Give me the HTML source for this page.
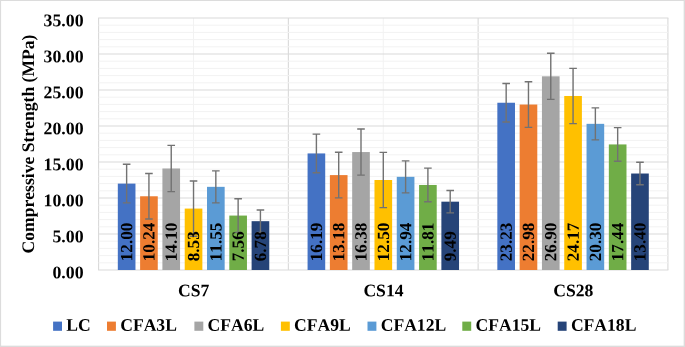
<!DOCTYPE html>
<html lang="en"><head><meta charset="utf-8"><title>Compressive Strength Chart</title>
<style>html,body{margin:0;padding:0;background:#fff}svg{display:block}</style></head>
<body>
<svg width="685" height="347" viewBox="0 0 685 347" font-family="'Liberation Serif', 'Times New Roman', serif" font-weight="bold" fill="#000" style="font-kerning:none">
<rect x="0" y="0" width="685" height="347" fill="#DCDCDC"/>
<rect x="1.1" y="1" width="682.55" height="344.65" fill="#fff"/>
<line x1="98.60" x2="98.60" y1="18.0" y2="270.0" stroke="#D9D9D9" stroke-width="1.1"/>
<line x1="288.37" x2="288.37" y1="18.0" y2="270.0" stroke="#D9D9D9" stroke-width="1.1"/>
<line x1="478.13" x2="478.13" y1="18.0" y2="270.0" stroke="#D9D9D9" stroke-width="1.1"/>
<line x1="667.90" x2="667.90" y1="18.0" y2="270.0" stroke="#D9D9D9" stroke-width="1.1"/>
<line x1="193.48" x2="193.48" y1="18.0" y2="270.0" stroke="#F2F2F2" stroke-width="1"/>
<line x1="383.25" x2="383.25" y1="18.0" y2="270.0" stroke="#F2F2F2" stroke-width="1"/>
<line x1="573.02" x2="573.02" y1="18.0" y2="270.0" stroke="#F2F2F2" stroke-width="1"/>
<line x1="98.6" x2="667.9" y1="262.80" y2="262.80" stroke="#F2F2F2" stroke-width="1"/>
<line x1="98.6" x2="667.9" y1="255.60" y2="255.60" stroke="#F2F2F2" stroke-width="1"/>
<line x1="98.6" x2="667.9" y1="248.40" y2="248.40" stroke="#F2F2F2" stroke-width="1"/>
<line x1="98.6" x2="667.9" y1="241.20" y2="241.20" stroke="#F2F2F2" stroke-width="1"/>
<line x1="98.6" x2="667.9" y1="226.80" y2="226.80" stroke="#F2F2F2" stroke-width="1"/>
<line x1="98.6" x2="667.9" y1="219.60" y2="219.60" stroke="#F2F2F2" stroke-width="1"/>
<line x1="98.6" x2="667.9" y1="212.40" y2="212.40" stroke="#F2F2F2" stroke-width="1"/>
<line x1="98.6" x2="667.9" y1="205.20" y2="205.20" stroke="#F2F2F2" stroke-width="1"/>
<line x1="98.6" x2="667.9" y1="190.80" y2="190.80" stroke="#F2F2F2" stroke-width="1"/>
<line x1="98.6" x2="667.9" y1="183.60" y2="183.60" stroke="#F2F2F2" stroke-width="1"/>
<line x1="98.6" x2="667.9" y1="176.40" y2="176.40" stroke="#F2F2F2" stroke-width="1"/>
<line x1="98.6" x2="667.9" y1="169.20" y2="169.20" stroke="#F2F2F2" stroke-width="1"/>
<line x1="98.6" x2="667.9" y1="154.80" y2="154.80" stroke="#F2F2F2" stroke-width="1"/>
<line x1="98.6" x2="667.9" y1="147.60" y2="147.60" stroke="#F2F2F2" stroke-width="1"/>
<line x1="98.6" x2="667.9" y1="140.40" y2="140.40" stroke="#F2F2F2" stroke-width="1"/>
<line x1="98.6" x2="667.9" y1="133.20" y2="133.20" stroke="#F2F2F2" stroke-width="1"/>
<line x1="98.6" x2="667.9" y1="118.80" y2="118.80" stroke="#F2F2F2" stroke-width="1"/>
<line x1="98.6" x2="667.9" y1="111.60" y2="111.60" stroke="#F2F2F2" stroke-width="1"/>
<line x1="98.6" x2="667.9" y1="104.40" y2="104.40" stroke="#F2F2F2" stroke-width="1"/>
<line x1="98.6" x2="667.9" y1="97.20" y2="97.20" stroke="#F2F2F2" stroke-width="1"/>
<line x1="98.6" x2="667.9" y1="82.80" y2="82.80" stroke="#F2F2F2" stroke-width="1"/>
<line x1="98.6" x2="667.9" y1="75.60" y2="75.60" stroke="#F2F2F2" stroke-width="1"/>
<line x1="98.6" x2="667.9" y1="68.40" y2="68.40" stroke="#F2F2F2" stroke-width="1"/>
<line x1="98.6" x2="667.9" y1="61.20" y2="61.20" stroke="#F2F2F2" stroke-width="1"/>
<line x1="98.6" x2="667.9" y1="46.80" y2="46.80" stroke="#F2F2F2" stroke-width="1"/>
<line x1="98.6" x2="667.9" y1="39.60" y2="39.60" stroke="#F2F2F2" stroke-width="1"/>
<line x1="98.6" x2="667.9" y1="32.40" y2="32.40" stroke="#F2F2F2" stroke-width="1"/>
<line x1="98.6" x2="667.9" y1="25.20" y2="25.20" stroke="#F2F2F2" stroke-width="1"/>
<line x1="98.1" x2="668.4" y1="270.00" y2="270.00" stroke="#D9D9D9" stroke-width="1.2"/>
<line x1="98.1" x2="668.4" y1="234.00" y2="234.00" stroke="#D9D9D9" stroke-width="1.2"/>
<line x1="98.1" x2="668.4" y1="198.00" y2="198.00" stroke="#D9D9D9" stroke-width="1.2"/>
<line x1="98.1" x2="668.4" y1="162.00" y2="162.00" stroke="#D9D9D9" stroke-width="1.2"/>
<line x1="98.1" x2="668.4" y1="126.00" y2="126.00" stroke="#D9D9D9" stroke-width="1.2"/>
<line x1="98.1" x2="668.4" y1="90.00" y2="90.00" stroke="#D9D9D9" stroke-width="1.2"/>
<line x1="98.1" x2="668.4" y1="54.00" y2="54.00" stroke="#D9D9D9" stroke-width="1.2"/>
<line x1="98.1" x2="668.4" y1="18.00" y2="18.00" stroke="#D9D9D9" stroke-width="1.2"/>
<rect x="117.81" y="183.60" width="17.65" height="86.40" fill="#4472C4"/>
<rect x="140.11" y="196.27" width="17.65" height="73.73" fill="#ED7D31"/>
<rect x="162.41" y="168.48" width="17.65" height="101.52" fill="#A5A5A5"/>
<rect x="184.71" y="208.58" width="17.65" height="61.42" fill="#FFC000"/>
<rect x="207.01" y="186.84" width="17.65" height="83.16" fill="#5B9BD5"/>
<rect x="229.31" y="215.57" width="17.65" height="54.43" fill="#70AD47"/>
<rect x="251.61" y="221.18" width="17.65" height="48.82" fill="#264478"/>
<rect x="307.57" y="153.43" width="17.65" height="116.57" fill="#4472C4"/>
<rect x="329.88" y="175.10" width="17.65" height="94.90" fill="#ED7D31"/>
<rect x="352.18" y="152.06" width="17.65" height="117.94" fill="#A5A5A5"/>
<rect x="374.48" y="180.00" width="17.65" height="90.00" fill="#FFC000"/>
<rect x="396.77" y="176.83" width="17.65" height="93.17" fill="#5B9BD5"/>
<rect x="419.07" y="184.97" width="17.65" height="85.03" fill="#70AD47"/>
<rect x="441.38" y="201.67" width="17.65" height="68.33" fill="#264478"/>
<rect x="497.34" y="102.74" width="17.65" height="167.26" fill="#4472C4"/>
<rect x="519.64" y="104.54" width="17.65" height="165.46" fill="#ED7D31"/>
<rect x="541.94" y="76.32" width="17.65" height="193.68" fill="#A5A5A5"/>
<rect x="564.24" y="95.98" width="17.65" height="174.02" fill="#FFC000"/>
<rect x="586.54" y="123.84" width="17.65" height="146.16" fill="#5B9BD5"/>
<rect x="608.84" y="144.43" width="17.65" height="125.57" fill="#70AD47"/>
<rect x="631.14" y="173.52" width="17.65" height="96.48" fill="#264478"/>
<path d="M126.63 164.30V202.90M122.83 164.30H130.43M122.83 202.90H130.43" stroke="#727272" stroke-width="1.4" fill="none"/>
<path d="M148.93 173.47V219.07M145.13 173.47H152.73M145.13 219.07H152.73" stroke="#727272" stroke-width="1.4" fill="none"/>
<path d="M171.23 145.38V191.58M167.43 145.38H175.03M167.43 191.58H175.03" stroke="#727272" stroke-width="1.4" fill="none"/>
<path d="M193.53 180.98V236.18M189.73 180.98H197.33M189.73 236.18H197.33" stroke="#727272" stroke-width="1.4" fill="none"/>
<path d="M215.83 170.84V202.84M212.03 170.84H219.63M212.03 202.84H219.63" stroke="#727272" stroke-width="1.4" fill="none"/>
<path d="M238.13 198.77V232.37M234.33 198.77H241.93M234.33 232.37H241.93" stroke="#727272" stroke-width="1.4" fill="none"/>
<path d="M260.43 209.98V232.38M256.63 209.98H264.23M256.63 232.38H264.23" stroke="#727272" stroke-width="1.4" fill="none"/>
<path d="M316.40 134.13V172.73M312.60 134.13H320.20M312.60 172.73H320.20" stroke="#727272" stroke-width="1.4" fill="none"/>
<path d="M338.70 152.30V197.90M334.90 152.30H342.50M334.90 197.90H342.50" stroke="#727272" stroke-width="1.4" fill="none"/>
<path d="M361.00 128.96V175.16M357.20 128.96H364.80M357.20 175.16H364.80" stroke="#727272" stroke-width="1.4" fill="none"/>
<path d="M383.30 152.40V207.60M379.50 152.40H387.10M379.50 207.60H387.10" stroke="#727272" stroke-width="1.4" fill="none"/>
<path d="M405.60 160.83V192.83M401.80 160.83H409.40M401.80 192.83H409.40" stroke="#727272" stroke-width="1.4" fill="none"/>
<path d="M427.90 168.17V201.77M424.10 168.17H431.70M424.10 201.77H431.70" stroke="#727272" stroke-width="1.4" fill="none"/>
<path d="M450.20 190.47V212.87M446.40 190.47H454.00M446.40 212.87H454.00" stroke="#727272" stroke-width="1.4" fill="none"/>
<path d="M506.17 83.44V122.04M502.37 83.44H509.97M502.37 122.04H509.97" stroke="#727272" stroke-width="1.4" fill="none"/>
<path d="M528.47 81.74V127.34M524.67 81.74H532.27M524.67 127.34H532.27" stroke="#727272" stroke-width="1.4" fill="none"/>
<path d="M550.77 53.22V99.42M546.97 53.22H554.57M546.97 99.42H554.57" stroke="#727272" stroke-width="1.4" fill="none"/>
<path d="M573.07 68.38V123.58M569.27 68.38H576.87M569.27 123.58H576.87" stroke="#727272" stroke-width="1.4" fill="none"/>
<path d="M595.37 107.84V139.84M591.57 107.84H599.17M591.57 139.84H599.17" stroke="#727272" stroke-width="1.4" fill="none"/>
<path d="M617.67 127.63V161.23M613.87 127.63H621.47M613.87 161.23H621.47" stroke="#727272" stroke-width="1.4" fill="none"/>
<path d="M639.97 162.32V184.72M636.17 162.32H643.77M636.17 184.72H643.77" stroke="#727272" stroke-width="1.4" fill="none"/>
<text transform="translate(132.23 261.2) rotate(-90.04)" font-size="17.1">12.00</text>
<text transform="translate(154.53 261.2) rotate(-90.04)" font-size="17.1">10.24</text>
<text transform="translate(176.83 261.2) rotate(-90.04)" font-size="17.1">14.10</text>
<text transform="translate(199.13 261.2) rotate(-90.04)" font-size="17.1">8.53</text>
<text transform="translate(221.43 261.2) rotate(-90.04)" font-size="17.1">11.55</text>
<text transform="translate(243.73 261.2) rotate(-90.04)" font-size="17.1">7.56</text>
<text transform="translate(266.03 261.2) rotate(-90.04)" font-size="17.1">6.78</text>
<text transform="translate(322.00 261.2) rotate(-90.04)" font-size="17.1">16.19</text>
<text transform="translate(344.30 261.2) rotate(-90.04)" font-size="17.1">13.18</text>
<text transform="translate(366.60 261.2) rotate(-90.04)" font-size="17.1">16.38</text>
<text transform="translate(388.90 261.2) rotate(-90.04)" font-size="17.1">12.50</text>
<text transform="translate(411.20 261.2) rotate(-90.04)" font-size="17.1">12.94</text>
<text transform="translate(433.50 261.2) rotate(-90.04)" font-size="17.1">11.81</text>
<text transform="translate(455.80 261.2) rotate(-90.04)" font-size="17.1">9.49</text>
<text transform="translate(511.77 261.2) rotate(-90.04)" font-size="17.1">23.23</text>
<text transform="translate(534.07 261.2) rotate(-90.04)" font-size="17.1">22.98</text>
<text transform="translate(556.37 261.2) rotate(-90.04)" font-size="17.1">26.90</text>
<text transform="translate(578.67 261.2) rotate(-90.04)" font-size="17.1">24.17</text>
<text transform="translate(600.97 261.2) rotate(-90.04)" font-size="17.1">20.30</text>
<text transform="translate(623.27 261.2) rotate(-90.04)" font-size="17.1">17.44</text>
<text transform="translate(645.57 261.2) rotate(-90.04)" font-size="17.1">13.40</text>
<text transform="translate(83.6 278.20) rotate(0.04)" text-anchor="end" font-size="17.8">0.00</text>
<text transform="translate(83.6 242.20) rotate(0.04)" text-anchor="end" font-size="17.8">5.00</text>
<text transform="translate(83.6 206.20) rotate(0.04)" text-anchor="end" font-size="17.8">10.00</text>
<text transform="translate(83.6 170.20) rotate(0.04)" text-anchor="end" font-size="17.8">15.00</text>
<text transform="translate(83.6 134.20) rotate(0.04)" text-anchor="end" font-size="17.8">20.00</text>
<text transform="translate(83.6 98.20) rotate(0.04)" text-anchor="end" font-size="17.8">25.00</text>
<text transform="translate(83.6 62.20) rotate(0.04)" text-anchor="end" font-size="17.8">30.00</text>
<text transform="translate(83.6 26.20) rotate(0.04)" text-anchor="end" font-size="17.8">35.00</text>
<text transform="translate(34.0 144.0) rotate(-90.04)" text-anchor="middle" font-size="17.6">Compressive Strength (MPa)</text>
<text transform="translate(193.68 296.3) rotate(0.04)" text-anchor="middle" font-size="17.6">CS7</text>
<text transform="translate(383.45 296.3) rotate(0.04)" text-anchor="middle" font-size="17.6">CS14</text>
<text transform="translate(573.22 296.3) rotate(0.04)" text-anchor="middle" font-size="17.6">CS28</text>
<rect x="53.10" y="321.6" width="8.9" height="9.2" fill="#4472C4"/>
<text transform="translate(66.30 330.7) rotate(0.04)" font-size="17.6">LC</text>
<rect x="107.00" y="321.6" width="8.9" height="9.2" fill="#ED7D31"/>
<text transform="translate(120.20 330.7) rotate(0.04)" font-size="17.6">CFA3L</text>
<rect x="194.40" y="321.6" width="8.9" height="9.2" fill="#A5A5A5"/>
<text transform="translate(207.60 330.7) rotate(0.04)" font-size="17.6">CFA6L</text>
<rect x="280.90" y="321.6" width="8.9" height="9.2" fill="#FFC000"/>
<text transform="translate(294.10 330.7) rotate(0.04)" font-size="17.6">CFA9L</text>
<rect x="367.50" y="321.6" width="8.9" height="9.2" fill="#5B9BD5"/>
<text transform="translate(380.70 330.7) rotate(0.04)" font-size="17.6">CFA12L</text>
<rect x="462.30" y="321.6" width="8.9" height="9.2" fill="#70AD47"/>
<text transform="translate(475.50 330.7) rotate(0.04)" font-size="17.6">CFA15L</text>
<rect x="557.70" y="321.6" width="8.9" height="9.2" fill="#264478"/>
<text transform="translate(570.90 330.7) rotate(0.04)" font-size="17.6">CFA18L</text>
</svg>
</body></html>
